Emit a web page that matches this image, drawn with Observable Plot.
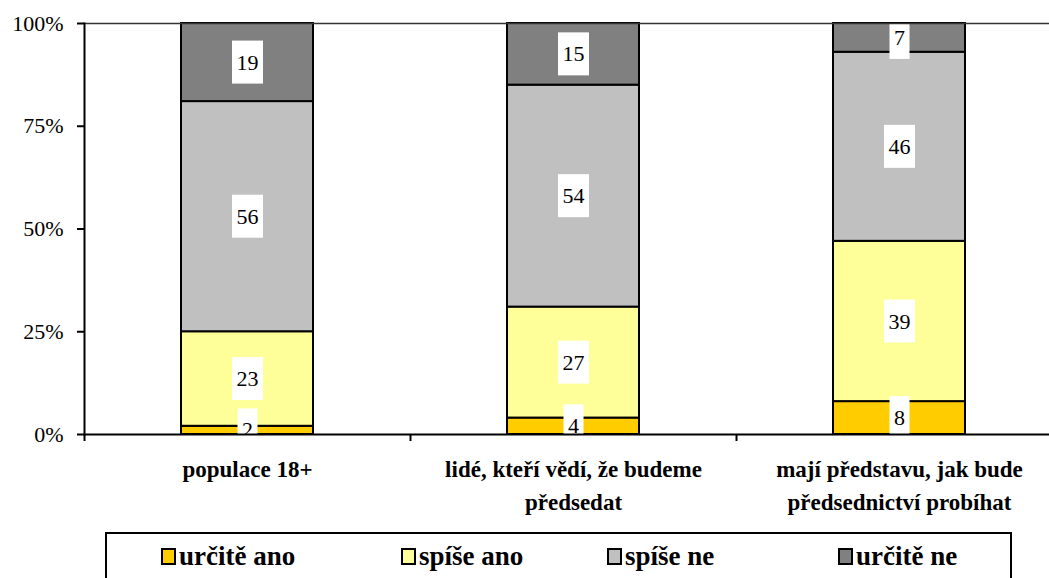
<!DOCTYPE html>
<html><head><meta charset="utf-8">
<script src="https://cdn.jsdelivr.net/npm/d3@7"></script>
<script src="https://cdn.jsdelivr.net/npm/@observablehq/plot@0.6"></script>
<style>
html,body{margin:0;padding:0;background:#fff;overflow:hidden;width:1049px;height:578px;font-family:'Liberation Serif',serif;}
#chart{position:absolute;left:0;top:0;width:1063px;}
#chart svg{max-width:none !important;}
#legend{position:absolute;left:105px;top:532px;width:907px;height:70px;border:2px solid #000;box-sizing:border-box;background:#fff;
  font-family:'Liberation Serif',serif;font-weight:bold;font-size:27px;color:#000;}
.item{position:absolute;top:6px;height:32px;display:flex;align-items:center;white-space:nowrap;}
.sw{width:15px;height:17px;border:2px solid #000;box-sizing:border-box;margin-right:3px;}
</style></head><body>
<div id="chart"></div><div id="legend"></div>
<script>
const categories = ["populace 18+", "lidé, kteří vědí, že budeme předsedat", "mají představu, jak bude předsednictví probíhat"];
const categoryLabels = ["populace 18+", "lidé, kteří vědí, že budeme\npředsedat", "mají představu, jak bude\npředsednictví probíhat"];
const series = ["určitě ano", "spíše ano", "spíše ne", "určitě ne"];
const colors = ["#FFCC00", "#FFFF99", "#C0C0C0", "#808080"];
const urciteAno = [2, 4, 8];
const spiseAno = [23, 27, 39];
const spiseNe = [56, 54, 46];
const urciteNe = [19, 15, 7];
const yTicks = [0, 25, 50, 75, 100];
const yTickLabels = ["0%", "25%", "50%", "75%", "100%"];

const seriesValues = [urciteAno, spiseAno, spiseNe, urciteNe];
const data = [];
categories.forEach((c, i) => {
  series.forEach((s, j) => data.push({category: c, series: s, value: seriesValues[j][i]}));
});

const W = 1063, H = 522, mL = 84, mR = 1, mT = 23, mB = 88;
const step = (W - mL - mR) / categories.length;

const plot = Plot.plot({
  width: W, height: H,
  marginLeft: mL, marginRight: mR, marginTop: mT, marginBottom: mB,
  style: {fontFamily: "'Liberation Serif', serif", background: "white", overflow: "visible", color: "#000", maxWidth: "none"},
  x: {domain: categories, paddingInner: 0.595, paddingOuter: 0.2975, axis: null},
  y: {domain: [0, 100], axis: null},
  color: {domain: series, range: colors},
  marks: [
    Plot.barY(data, {x: "category", y: "value", fill: "series", stroke: "#000", strokeWidth: 2}),
    Plot.text(data, Plot.stackY({x: "category", y: "value", text: "value", fontSize: 22, fill: "#000", clip: true})),
    Plot.frame({anchor: "top", stroke: "#333", strokeWidth: 1.5}),
    Plot.frame({anchor: "left", stroke: "#000", strokeWidth: 2}),
    Plot.frame({anchor: "bottom", stroke: "#000", strokeWidth: 2}),
    Plot.axisY({ticks: yTicks, tickFormat: d => yTickLabels[yTicks.indexOf(d)], tickSize: 7, tickPadding: 14,
      fontSize: 22, stroke: "#000", strokeWidth: 2, label: null}),
    Plot.axisX({tickSize: 0, tickPadding: 20, fontSize: 23, fontWeight: "bold",
      tickFormat: d => categoryLabels[categories.indexOf(d)], lineHeight: 1.4, label: null}),
    Plot.ruleX(categories, {x: d => d, y1: 0, y2: 0, insetBottom: -7, dx: -step / 2, stroke: "#000", strokeWidth: 2})
  ]
});
plot.setAttribute("font-family", "Liberation Serif");
document.getElementById("chart").appendChild(plot);
plot.querySelectorAll('g[aria-label="x-axis tick label"] text').forEach(t => t.style.fontWeight = "bold");

// white boxes behind value labels
plot.querySelectorAll('g[aria-label="text"] text').forEach(t => {
  const bb = t.getBBox();
  const r = document.createElementNS("http://www.w3.org/2000/svg", "rect");
  const cy = bb.y + bb.height / 2;
  r.setAttribute("x", bb.x - 4.5);
  r.setAttribute("width", bb.width + 9);
  r.setAttribute("y", cy - 21.5);
  r.setAttribute("height", 43);
  r.setAttribute("fill", "#fff");
  r.setAttribute("stroke", "none");
  if (t.getAttribute("transform")) r.setAttribute("transform", t.getAttribute("transform"));
  t.parentNode.insertBefore(r, t);
});

// legend
const legendLefts = [54, 294, 500, 731];
const legend = document.getElementById("legend");
series.forEach((s, i) => {
  const item = document.createElement("div");
  item.className = "item";
  item.style.left = legendLefts[i] + "px";
  const sw = document.createElement("div");
  sw.className = "sw";
  sw.style.background = colors[i];
  const lbl = document.createElement("span");
  lbl.textContent = s;
  item.appendChild(sw);
  item.appendChild(lbl);
  legend.appendChild(item);
});
</script>
</body></html>
